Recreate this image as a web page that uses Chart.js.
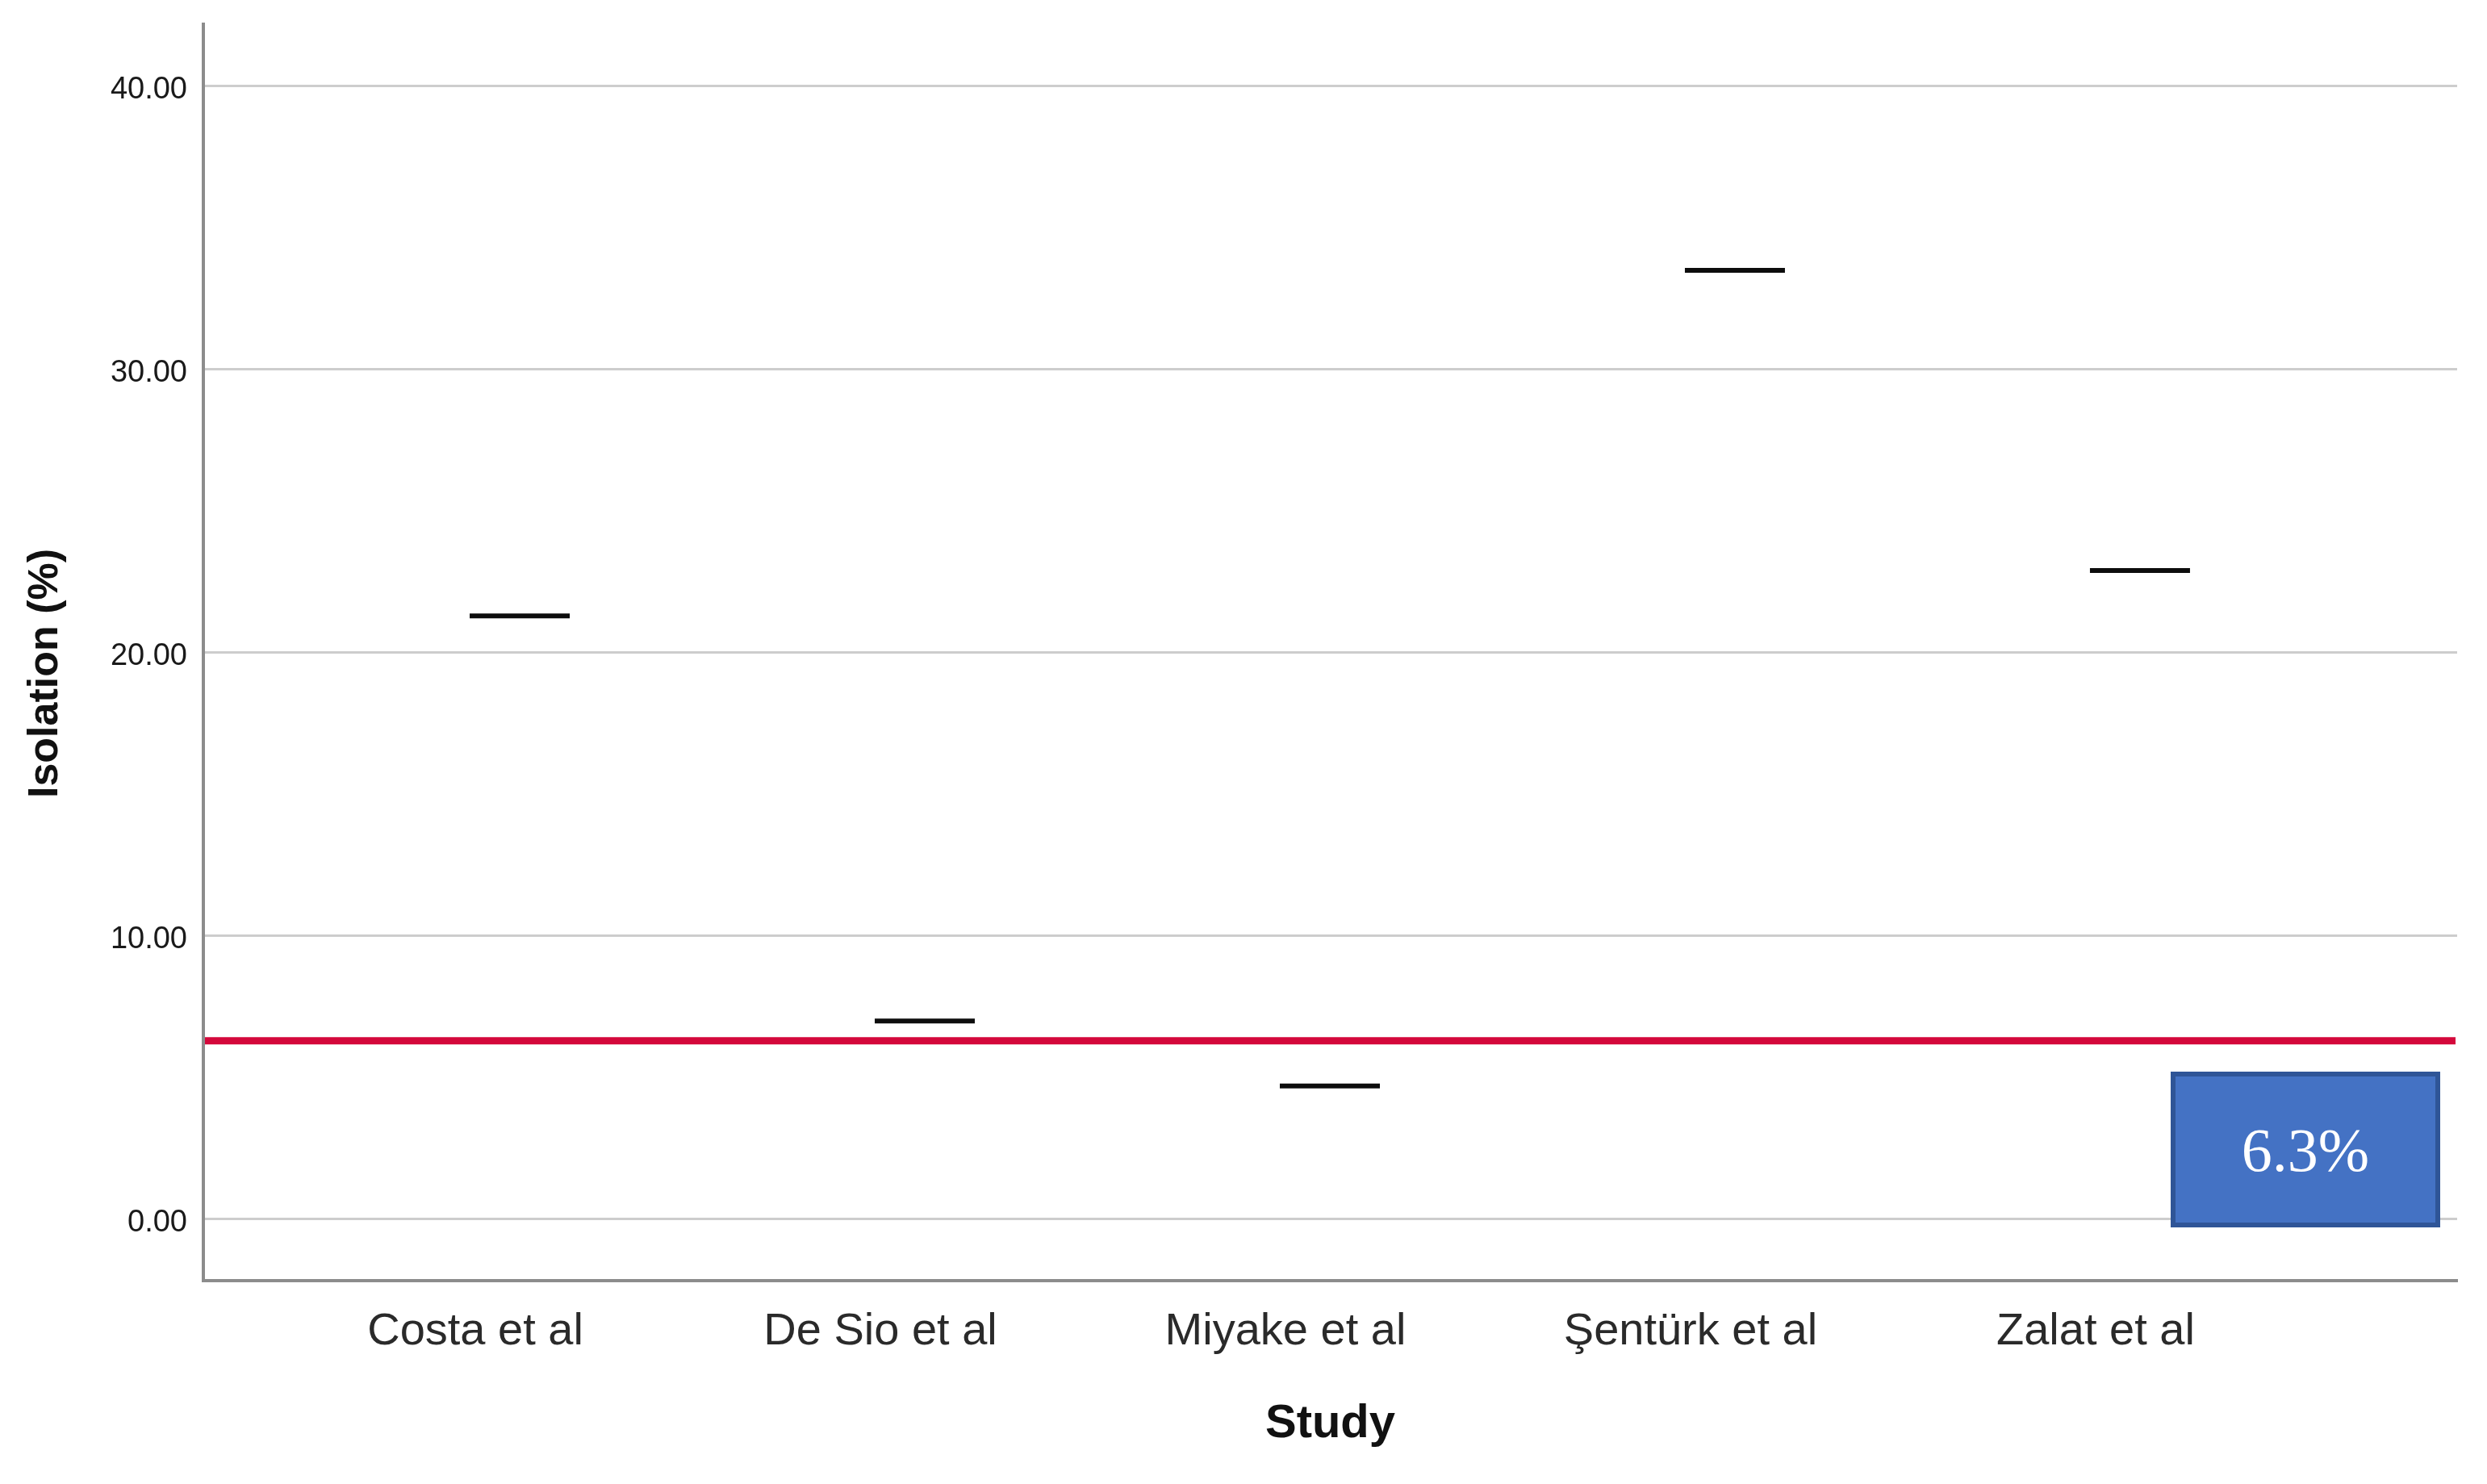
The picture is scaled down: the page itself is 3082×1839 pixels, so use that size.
<!DOCTYPE html>
<html>
<head>
<meta charset="utf-8">
<script src="https://cdn.jsdelivr.net/npm/chart.js@4.4.1/dist/chart.umd.min.js"></script>
<style>
  html, body { margin: 0; padding: 0; background: #ffffff; overflow: hidden; }
  canvas { display: block; }
</style>
</head>
<body>
<canvas id="c" width="3082" height="1839"></canvas>
<script>
// ---- data ----
const categories = ["Costa et al", "De Sio et al", "Miyake et al", "Şentürk et al", "Zalat et al"];
const isolationValues = [21.3, 7.0, 4.7, 33.5, 22.9];
const pooledMean = 6.3;
const pooledLabel = "6.3%";
const yTickValues = [0, 10, 20, 30, 40];
const yAxisTitle = "Isolation (%)";
const xAxisTitle = "Study";

const points = categories.map((c, i) => ({ x: i, y: isolationValues[i] }));

function zeroPadding(scale) {
  scale.paddingTop = 0; scale.paddingBottom = 0;
  scale.paddingLeft = 0; scale.paddingRight = 0;
}

const refPlugin = {
  id: 'refPlugin',
  afterDatasetsDraw(chart) {
    const { ctx, chartArea, scales } = chart;
    const y = scales.y.getPixelForValue(pooledMean);
    ctx.save();
    ctx.strokeStyle = '#D4083B';
    ctx.lineWidth = 9;
    ctx.beginPath();
    ctx.moveTo(chartArea.left + 2, y);
    ctx.lineTo(chartArea.right - 2, y);
    ctx.stroke();

    // label box
    const bx = chartArea.right - 355, by = chartArea.bottom - 259;
    const bw = 334, bh = 193;
    ctx.fillStyle = '#4472C4';
    ctx.fillRect(bx, by, bw, bh);
    ctx.strokeStyle = '#2F5597';
    ctx.lineWidth = 6;
    ctx.strokeRect(bx + 3, by + 3, bw - 6, bh - 6);
    ctx.fillStyle = '#ffffff';
    ctx.font = '76px "Liberation Serif", serif';
    ctx.textAlign = 'center';
    ctx.textBaseline = 'middle';
    ctx.fillText(pooledLabel, bx + bw / 2, by + bh / 2 + 7);
    ctx.restore();
  }
};

new Chart(document.getElementById('c'), {
  type: 'scatter',
  data: {
    datasets: [{
      data: points,
      pointStyle: 'line',
      pointRadius: 62,
      pointHoverRadius: 62,
      pointBorderWidth: 6,
      pointHoverBorderWidth: 6,
      borderColor: '#0d0d0d',
      backgroundColor: '#0d0d0d',
      showLine: false,
      clip: false
    }]
  },
  options: {
    responsive: false,
    devicePixelRatio: 1,
    animation: false,
    events: [],
    layout: { autoPadding: false, padding: { top: 30, right: 37, left: 0, bottom: 0 } },
    plugins: { legend: { display: false }, tooltip: { enabled: false } },
    scales: {
      x: {
        type: 'linear',
        min: -0.781,
        max: 4.783,
        bounds: 'data',
        afterBuildTicks(scale) { scale.ticks = categories.map((c, i) => ({ value: i })); },
        afterFit(scale) { scale.height = 252; zeroPadding(scale); },
        grid: { display: false, drawTicks: false },
        border: { display: true, color: '#8c8c8c', width: 4 },
        ticks: {
          autoSkip: false,
          maxRotation: 0,
          padding: 30,
          labelOffset: -55,
          color: '#2a2a2a',
          font: { family: '"Liberation Sans", Arial, sans-serif', size: 56 },
          callback: (v) => categories[Math.round(v)]
        },
        title: {
          display: true,
          text: xAxisTitle,
          color: '#111111',
          padding: { top: 0, bottom: 39 },
          font: { family: '"Liberation Sans", Arial, sans-serif', size: 58, weight: 'bold' }
        }
      },
      y: {
        type: 'linear',
        min: -2.17,
        max: 42.19,
        bounds: 'data',
        afterBuildTicks(scale) { scale.ticks = yTickValues.map(v => ({ value: v })); },
        afterFit(scale) { scale.width = 252; zeroPadding(scale); },
        grid: { color: '#cdcdcd', lineWidth: 3, drawTicks: false },
        border: { display: true, color: '#8c8c8c', width: 4 },
        ticks: {
          padding: 20,
          labelOffset: 5,
          color: '#1a1a1a',
          font: { family: '"Liberation Sans", Arial, sans-serif', size: 38 },
          callback: (v) => Number(v).toFixed(2)
        },
        title: {
          display: true,
          text: yAxisTitle + '\u2002\u2002',
          color: '#111111',
          padding: { top: 25, bottom: 0 },
          font: { family: '"Liberation Sans", Arial, sans-serif', size: 52, weight: 'bold' }
        }
      }
    }
  },
  plugins: [refPlugin]
});
</script>
</body>
</html>
